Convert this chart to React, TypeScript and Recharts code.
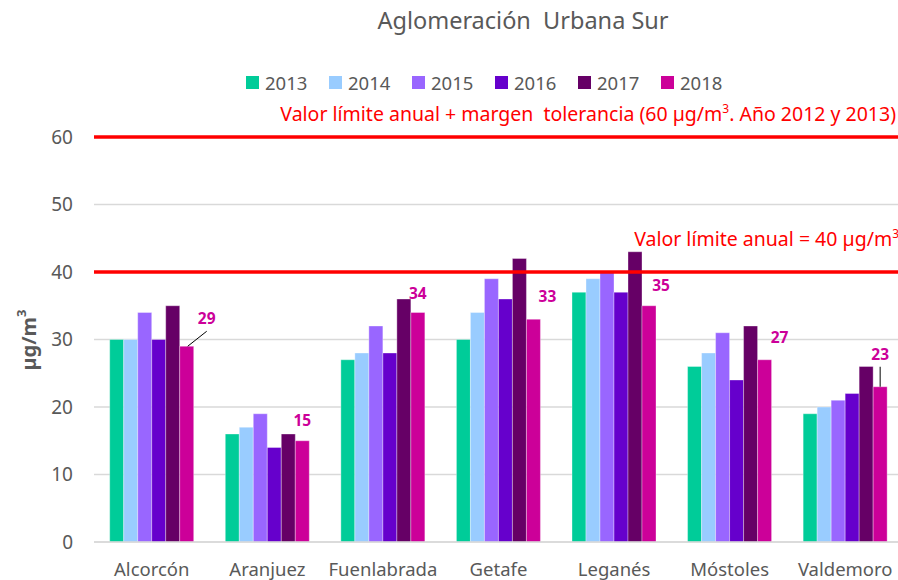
import { BarChart, Bar, XAxis, YAxis, CartesianGrid, ReferenceLine, LabelList, Label } from 'recharts'

const cities = ['Alcorcón', 'Aranjuez', 'Fuenlabrada', 'Getafe', 'Leganés', 'Móstoles', 'Valdemoro']
const years = ['2013', '2014', '2015', '2016', '2017', '2018']
const v2013 = [30, 16, 27, 30, 37, 26, 19]
const v2014 = [30, 17, 28, 34, 39, 28, 20]
const v2015 = [34, 19, 32, 39, 40, 31, 21]
const v2016 = [30, 14, 28, 36, 37, 24, 22]
const v2017 = [35, 16, 36, 42, 43, 32, 26]
const v2018 = [29, 15, 34, 33, 35, 27, 23]
const yTicks = [0, 10, 20, 30, 40, 50, 60]
const limiteAnual = 40
const limiteMargen = 60

const colors = ['#00CC99', '#99CCFF', '#9966FF', '#6600CC', '#660066', '#CC0099']
const FONT = '"Noto Sans", "Liberation Sans", sans-serif'

const series = [v2013, v2014, v2015, v2016, v2017, v2018]
const data = cities.map((city, i) => {
  const row: Record<string, string | number> = { city }
  years.forEach((y, k) => { row[y] = series[k][i] })
  return row
})

// hand-placed label nudges, the way they sit in the original sheet
const nudges = [
  { dx: 20, dy: -28, leader: 'diag' },
  { dx: 0, dy: -21 },
  { dx: 0, dy: -20 },
  { dx: 14, dy: -23 },
  { dx: 12, dy: -21 },
  { dx: 15, dy: -23 },
  { dx: 0, dy: -33, leader: 'vert' },
]

const Label2018 = (props: any) => {
  const { x, y, width, value, index } = props
  const n = nudges[index] || { dx: 0, dy: -20 }
  const cx = Number(x) + Number(width) / 2
  const top = Number(y)
  return (
    <g>
      {n.leader === 'diag' && (
        <line x1={cx + 1} y1={top} x2={cx + 20} y2={top - 15} stroke="#000" strokeWidth={1} />
      )}
      {n.leader === 'vert' && (
        <line x1={cx} y1={top} x2={cx} y2={top - 20} stroke="#000" strokeWidth={1} />
      )}
      <text
        x={cx + n.dx}
        y={top + n.dy}
        textAnchor="middle"
        dominantBaseline="central"
        fill="#CC0099"
        fontSize={15.5}
        fontWeight={700}
        fontFamily={FONT}
      >
        {value}
      </text>
    </g>
  )
}

const refLabel = (parts: [string, string], dy: number, dxRight: number) => (props: any) => {
  const vb = props.viewBox
  return (
    <text
      x={vb.x + vb.width - dxRight}
      y={vb.y - dy}
      textAnchor="end"
      fill="#FF0000"
      fontSize={19.5}
      fontFamily={FONT}
      style={{ whiteSpace: 'pre' }}
    >
      <tspan>{parts[0]}</tspan>
      <tspan dy={-8} fontSize={12}>3</tspan>
      <tspan dy={8}>{parts[1]}</tspan>
    </text>
  )
}

const yAxisTitle = (props: any) => {
  const vb = props.viewBox
  const cx = vb.x + 28
  const cy = 340
  return (
    <text
      x={cx}
      y={cy}
      transform={`rotate(-90 ${cx} ${cy})`}
      textAnchor="middle"
      dominantBaseline="central"
      fill="#595959"
      fontSize={20}
      fontWeight={700}
      fontFamily={FONT}
    >
      <tspan>µg/m</tspan>
      <tspan dy={-7} fontSize={13}>3</tspan>
    </text>
  )
}

export default function App() {
  return (
    <div
      style={{
        position: 'fixed', left: 0, top: 0, width: 898, height: 580,
        overflow: 'hidden', background: '#fff', fontFamily: FONT,
      }}
    >
      <div
        style={{
          position: 'absolute', left: 0, width: 1046, top: 4, textAlign: 'center',
          fontSize: 23.5, color: '#595959', whiteSpace: 'pre',
        }}
      >
        Aglomeración  Urbana Sur
      </div>
      <div style={{ position: 'absolute', left: 246, top: 70, display: 'flex' }}>
        {years.map((y, k) => (
          <div key={y} style={{ width: 83, display: 'flex', alignItems: 'center' }}>
            <span style={{ width: 13, height: 13, background: colors[k], marginRight: 6, display: 'inline-block' }} />
            <span style={{ fontSize: 18.5, color: '#595959' }}>{y}</span>
          </div>
        ))}
      </div>
      <BarChart
        width={904}
        height={580}
        data={data}
        margin={{ top: 137, right: 1, left: 0, bottom: 0 }}
        barCategoryGap="13.6%"
        barGap={0}
      >
        <CartesianGrid vertical={false} stroke="#d9d9d9" strokeWidth={1.5} />
        <XAxis
          dataKey="city"
          height={38}
          axisLine={{ stroke: '#d9d9d9', strokeWidth: 1.5 }}
          tickLine={false}
          tickSize={0}
          tickMargin={21}
          tick={{ fill: '#595959', fontSize: 18.5, fontFamily: FONT }}
          interval={0}
        />
        <YAxis
          width={94}
          domain={[0, 60]}
          ticks={yTicks}
          axisLine={false}
          tickLine={false}
          tickSize={0}
          tickMargin={21}
          tick={{ fill: '#595959', fontSize: 19, fontFamily: FONT }}
        >
          <Label content={yAxisTitle} />
        </YAxis>
        {years.map((y, k) => (
          <Bar
            key={y}
            dataKey={y}
            fill={colors[k]}
            stroke="#ffffff"
            strokeOpacity={0.45}
            strokeWidth={0.75}
            isAnimationActive={false}
          >
            {y === '2018' && <LabelList dataKey={y} content={Label2018} />}
          </Bar>
        ))}
        <ReferenceLine
          y={limiteMargen}
          stroke="#FF0000"
          strokeWidth={3.5}
          label={refLabel(['Valor límite anual + margen  tolerancia (60 µg/m', '. Año 2012 y 2013)'], 16, 7)}
        />
        <ReferenceLine
          y={limiteAnual}
          stroke="#FF0000"
          strokeWidth={3.5}
          label={refLabel(['Valor límite anual = 40 µg/m', ''], 26, 4)}
        />
      </BarChart>
    </div>
  )
}
